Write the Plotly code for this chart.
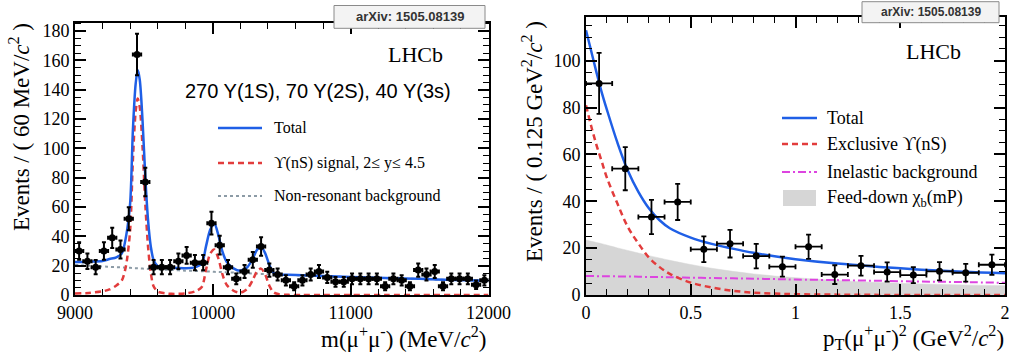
import plotly.graph_objects as go

# ---------------- Left panel: dimuon mass ----------------
mass_centers = [9030, 9090, 9150, 9210, 9270, 9330, 9390, 9450, 9510, 9570,
                9630, 9690, 9750, 9810, 9870, 9930, 9990, 10050, 10110, 10170,
                10230, 10290, 10350, 10410, 10470, 10530, 10590, 10650, 10710, 10770,
                10830, 10890, 10950, 11010, 11070, 11130, 11190, 11250, 11310, 11370,
                11430, 11490, 11550, 11610, 11670, 11730, 11790, 11850, 11910, 11970]
mass_counts = [30, 23, 19, 30, 39, 31, 52, 164, 77, 19,
               19, 19, 23, 27, 22, 22, 49, 34, 19, 11,
               16, 24, 33, 17, 14, 10, 6, 10, 14, 16,
               12, 9, 9, 11, 11, 11, 11, 6, 11, 10,
               6, 17, 14, 16, 6, 11, 11, 11, 7, 10]
mass_errors = [6.0, 5.3, 4.8, 6.0, 6.9, 6.1, 7.9, 14.1, 9.7, 4.8,
               4.8, 4.8, 5.3, 5.7, 5.2, 5.2, 7.7, 6.4, 4.8, 3.6,
               4.4, 5.4, 6.3, 4.5, 4.1, 3.5, 2.7, 3.5, 4.1, 4.4,
               3.8, 3.3, 3.3, 3.6, 3.6, 3.6, 3.6, 2.7, 3.6, 3.5,
               2.7, 4.5, 4.1, 4.4, 2.7, 3.6, 3.6, 3.6, 2.9, 3.5]
mass_half_bin = 30
mass_ticks = [9000, 10000, 11000, 12000]
mass_tick_labels = ['9000', '10000', '11000', '12000']

mass_grid = [9000, 9100, 9200, 9250, 9300, 9340, 9370, 9400, 9420, 9440,
             9455, 9470, 9490, 9510, 9530, 9550, 9570, 9600, 9650, 9700,
             9800, 9870, 9920, 9950, 9980, 10010, 10040, 10070, 10100, 10150,
             10200, 10250, 10290, 10320, 10350, 10380, 10410, 10440, 10480, 10550,
             10650, 10800, 11000, 11250, 11500, 11750, 12000]
mass_total = [22.5, 22.7, 23.2, 24.5, 25.7, 28.4, 39.8, 62.5, 112.5, 144.0,
              153.4, 146.6, 119.0, 80.7, 51.0, 33.0, 23.9, 19.8, 19.0, 18.6,
              18.3, 18.8, 21.6, 33.0, 44.3, 48.9, 40.9, 29.5, 22.7, 18.2,
              16.6, 18.9, 25.0, 30.7, 33.0, 28.4, 20.5, 15.2, 14.0, 13.8,
              13.4, 12.9, 12.3, 11.6, 11.0, 10.3, 9.7]
mass_signal = [1.0, 1.4, 2.5, 3.8, 6.5, 10.0, 20.0, 44.0, 92.0, 125.0,
               134.0, 128.0, 101.0, 62.0, 33.0, 15.0, 6.0, 2.3, 1.2, 0.8,
               1.0, 2.4, 5.5, 17.0, 28.0, 31.0, 25.0, 14.0, 7.0, 2.9,
               1.6, 4.1, 10.3, 16.0, 18.0, 14.0, 6.3, 1.9, 0.5, 0.1,
               0.0, 0.0, 0.0, 0.0, 0.0, 0.0, 0.0]
mass_bkg = [20.5, 20.0, 19.5, 19.2, 19.0, 18.8, 18.6, 18.5, 18.3, 18.2,
            18.2, 18.1, 18.0, 17.9, 17.8, 17.7, 17.6, 17.5, 17.3, 17.1,
            16.6, 16.4, 16.2, 16.1, 16.0, 15.8, 15.7, 15.6, 15.5, 15.3,
            15.0, 14.8, 14.7, 14.6, 14.4, 14.3, 14.2, 14.1, 13.9, 13.7,
            13.3, 12.8, 12.2, 11.5, 10.9, 10.2, 9.5]

# ---------------- Right panel: pT^2 ----------------
pt2_centers = [0.0625, 0.1875, 0.3125, 0.4375, 0.5625, 0.6875, 0.8125, 0.9375,
               1.0625, 1.1875, 1.3125, 1.4375, 1.5625, 1.6875, 1.8125, 1.9375]
pt2_counts = [90.3, 53.9, 33.3, 39.7, 19.5, 21.9, 16.6, 12.1,
              20.6, 8.7, 12.5, 9.8, 8.5, 10.1, 9.5, 12.9]
pt2_errors = [13.0, 9.2, 7.3, 7.7, 5.5, 5.9, 5.2, 4.3,
              5.2, 4.0, 4.2, 4.1, 3.4, 3.9, 3.8, 4.3]
pt2_half_bin = 0.0625
pt2_ticks = [0, 0.5, 1, 1.5, 2]
pt2_tick_labels = ['0', '0.5', '1', '1.5', '2']

pt2_grid = [0, 0.025, 0.05, 0.075, 0.1, 0.15, 0.2, 0.25, 0.3, 0.35, 0.4,
            0.5, 0.6, 0.7, 0.8, 0.9, 1.0, 1.2, 1.4, 1.6, 1.8, 2.0]
pt2_total = [113, 104, 95, 86.5, 79, 65, 53, 44, 37, 32, 28.5,
             24.5, 21.8, 19.8, 18.0, 16.5, 15.3, 13.4, 12.0, 10.8, 9.9, 9.3]
pt2_exclusive = [81, 72, 64, 57, 50, 39, 29, 22, 16, 12, 9,
                 5.3, 3.2, 1.8, 1.0, 0.6, 0.35, 0.15, 0.05, 0, 0, 0]
pt2_inelastic = [8.1, 8.07, 8.05, 8.02, 8.0, 7.95, 7.9, 7.8, 7.7, 7.65, 7.6,
                 7.4, 7.25, 7.1, 6.95, 6.8, 6.6, 6.35, 6.05, 5.75, 5.5, 5.2]
pt2_feeddown = [23.5, 22.9, 22.4, 21.9, 21.3, 20.1, 19.0, 17.9, 16.8, 15.8, 14.8,
                13.0, 11.4, 10.1, 9.0, 8.1, 7.4, 6.2, 5.3, 4.7, 4.3, 4.0]

# ---------------- styling ----------------
W, H = 1009, 353
BLUE = '#1f5fe6'
RED = '#e23c3c'
GREY_DOT = '#8c9ba6'
MAGENTA = '#dd44e0'
FILL = '#d6d6d6'
SERIF = 'Liberation Serif'
SANS = 'Liberation Sans'
RED_DASH = '6px,4px'
MAG_DASH = '8px,3px,2px,3px'


def px(x):
    return x / W


def py(y):
    return 1 - y / H


fig = go.Figure()

# left curves
fig.add_trace(go.Scatter(x=mass_grid, y=mass_bkg, mode='lines', line=dict(color=GREY_DOT, width=2, dash='dot', shape='spline'), xaxis='x', yaxis='y'))
fig.add_trace(go.Scatter(x=mass_grid, y=mass_signal, mode='lines', line=dict(color=RED, width=2.5, dash=RED_DASH, shape='spline', smoothing=0.8), xaxis='x', yaxis='y'))
fig.add_trace(go.Scatter(x=mass_grid, y=mass_total, mode='lines', line=dict(color=BLUE, width=2.5, shape='spline', smoothing=0.8), xaxis='x', yaxis='y'))
fig.add_trace(go.Scatter(x=mass_centers, y=mass_counts, mode='markers',
                         marker=dict(color='black', size=7),
                         error_y=dict(type='data', array=mass_errors, color='black', thickness=2, width=2),
                         error_x=dict(type='constant', value=mass_half_bin, color='black', thickness=2, width=2),
                         xaxis='x', yaxis='y'))

# right curves
fig.add_trace(go.Scatter(x=pt2_grid, y=pt2_feeddown, mode='lines', fill='tozeroy', fillcolor=FILL,
                         line=dict(color=FILL, width=0.5, shape='spline'), xaxis='x2', yaxis='y2'))
fig.add_trace(go.Scatter(x=pt2_grid, y=pt2_inelastic, mode='lines', line=dict(color=MAGENTA, width=2, dash=MAG_DASH, shape='spline'), xaxis='x2', yaxis='y2'))
fig.add_trace(go.Scatter(x=pt2_grid, y=pt2_exclusive, mode='lines', line=dict(color=RED, width=2.5, dash=RED_DASH, shape='spline'), xaxis='x2', yaxis='y2'))
fig.add_trace(go.Scatter(x=pt2_grid, y=pt2_total, mode='lines', line=dict(color=BLUE, width=2.5, shape='spline'), xaxis='x2', yaxis='y2'))
fig.add_trace(go.Scatter(x=pt2_centers, y=pt2_counts, mode='markers',
                         marker=dict(color='black', size=7),
                         error_y=dict(type='data', array=pt2_errors, color='black', thickness=1.8, width=2.5),
                         error_x=dict(type='constant', value=pt2_half_bin, color='black', thickness=1.8, width=2.5),
                         xaxis='x2', yaxis='y2'))

axis_common = dict(showline=True, linecolor='black', linewidth=1.8, mirror='allticks',
                   ticks='inside', ticklen=11, tickwidth=1.5, tickcolor='black',
                   showgrid=False, zeroline=False, automargin=False,
                   ticklabeloverflow='allow',
                   tickfont=dict(family=SERIF, size=18, color='black'))
minor_common = dict(ticklen=6, tickwidth=1.2, tickcolor='black', ticks='inside')

fig.update_layout(
    width=W, height=H, autosize=False,
    margin=dict(l=0, r=0, t=0, b=0, pad=0),
    paper_bgcolor='white', plot_bgcolor='white', showlegend=False,
    xaxis=dict(domain=[px(75), px(488.5)], anchor='y', range=[9000, 12000],
               tickvals=mass_ticks, ticktext=mass_tick_labels,
               minor=dict(dtick=200, **minor_common), **axis_common),
    yaxis=dict(domain=[py(295), py(22.7)], anchor='x', range=[0, 185.7], dtick=20,
               minor=dict(dtick=5, **minor_common), **axis_common),
    xaxis2=dict(domain=[px(586), px(1005)], anchor='y2', range=[0, 2],
                tickvals=pt2_ticks, ticktext=pt2_tick_labels,
                minor=dict(dtick=0.1, **minor_common), **axis_common),
    yaxis2=dict(domain=[py(295), py(17.3)], anchor='x2', range=[0, 118.5], dtick=20,
                minor=dict(dtick=5, **minor_common), **axis_common),
)

shapes = []
ann = []


def legend_line(x0, x1, y, color, dash, width=2.5):
    shapes.append(dict(type='line', xref='paper', yref='paper', x0=px(x0), x1=px(x1), y0=py(y), y1=py(y),
                       line=dict(color=color, width=width, dash=dash)))


def text(x, y, s, size, family=SERIF, xanchor='left', yanchor='middle', color='black', angle=0):
    ann.append(dict(xref='paper', yref='paper', x=px(x), y=py(y), text=s, showarrow=False,
                    xanchor=xanchor, yanchor=yanchor, textangle=angle,
                    font=dict(family=family, size=size, color=color)))


# left legend
legend_line(218, 262, 128, BLUE, 'solid')
text(272, 128, 'Total', 16)
legend_line(218, 262, 163, RED, RED_DASH)
text(272, 163, 'ϒ(nS) signal, 2≤ y≤ 4.5', 16)
legend_line(218, 262, 196, GREY_DOT, 'dot', 2)
text(272, 196, 'Non-resonant background', 16)

# right legend
legend_line(782, 817, 118, BLUE, 'solid')
text(825, 118, 'Total', 18)
legend_line(782, 817, 144, RED, RED_DASH)
text(825, 144, 'Exclusive ϒ(nS)', 18)
legend_line(782, 817, 172, MAGENTA, MAG_DASH, 2)
text(825, 172, 'Inelastic background', 18)
shapes.append(dict(type='rect', xref='paper', yref='paper', x0=px(783), x1=px(816), y0=py(206), y1=py(190),
                   fillcolor=FILL, line=dict(width=0)))
text(825, 199, 'Feed-down χ<sub>b</sub>(mP)', 18)

# LHCb labels and yields
text(445, 55, 'LHCb', 22, xanchor='right')
text(963, 51, 'LHCb', 22, xanchor='right')
text(318, 91, '270 Y(1S), 70 Y(2S), 40 Y(3s)', 20, family=SANS, xanchor='center')

# axis titles
text(19, 127, 'Events / ( 60 MeV/<i>c</i><sup>2</sup> )', 23, xanchor='center', angle=-90)
text(488, 337, 'm(μ<sup>+</sup>μ<sup>-</sup>) (MeV/<i>c</i><sup>2</sup>)', 23, xanchor='right')
text(532, 142, 'Events / ( 0.125 GeV<sup>2</sup>/<i>c</i><sup>2</sup> )', 23, xanchor='center', angle=-90)
text(1006, 337, 'p<sub>T</sub>(μ<sup>+</sup>μ<sup>-</sup>)<sup>2</sup> (GeV<sup>2</sup>/<i>c</i><sup>2</sup>)', 23, xanchor='right')

# arXiv boxes
shapes.append(dict(type='rect', xref='paper', yref='paper', x0=px(334), x1=px(485), y0=py(28.3), y1=py(5.5),
                   fillcolor='#f3f3f3', line=dict(color='#8a8a8a', width=1)))
text(409.5, 17, '<b>arXiv: 1505.08139</b>', 13, family=SANS, xanchor='center', color='#333333')
shapes.append(dict(type='rect', xref='paper', yref='paper', x0=px(862), x1=px(999), y0=py(22.7), y1=py(1.7),
                   fillcolor='#f3f3f3', line=dict(color='#8a8a8a', width=1)))
text(930.5, 12.2, '<b>arXiv: 1505.08139</b>', 12, family=SANS, xanchor='center', color='#333333')

fig.update_layout(shapes=shapes, annotations=ann)
fig.write_html('out.html', config={'displayModeBar': False},
               post_script="document.body.style.margin='0px';document.body.style.overflow='hidden';")
